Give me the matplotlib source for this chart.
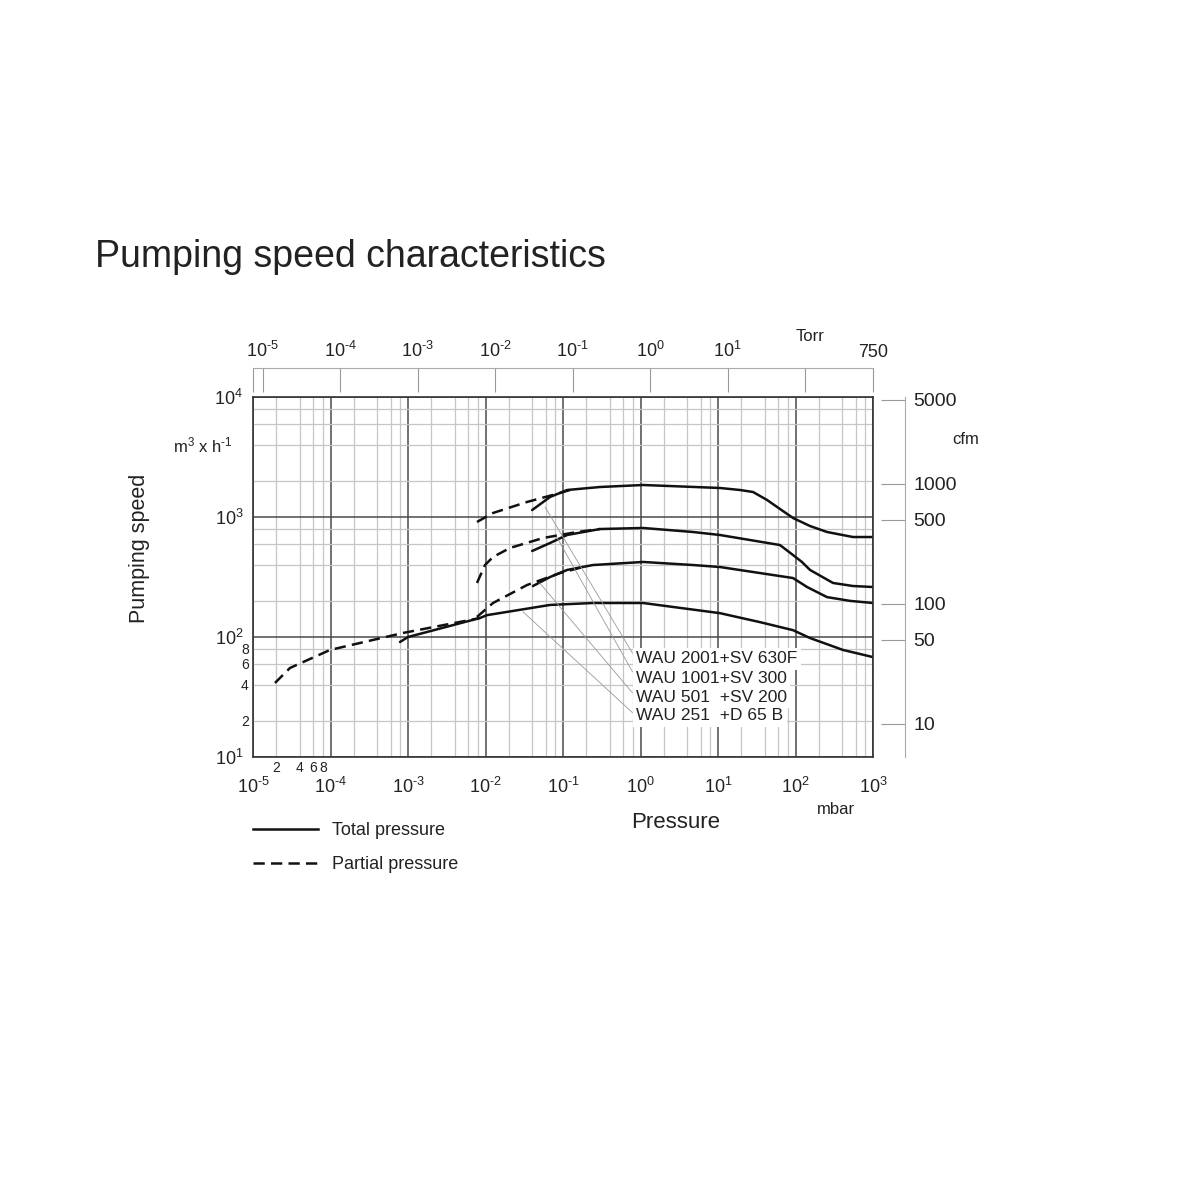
import matplotlib
matplotlib.use('Agg')
import matplotlib.pyplot as plt
import numpy as np
from matplotlib.ticker import FixedLocator, FuncFormatter, NullLocator
from matplotlib.lines import Line2D

plt.rcParams['font.family'] = ['Liberation Sans', 'DejaVu Sans']
plt.rcParams['mathtext.fontset'] = 'custom'
plt.rcParams['mathtext.rm'] = 'Liberation Sans'
plt.rcParams['mathtext.it'] = 'Liberation Sans:italic'
plt.rcParams['mathtext.bf'] = 'Liberation Sans:bold'

MBAR_PER_TORR = 1.333     # pressure conversion for the top axis
M3H_PER_CFM = 1.9         # as drawn on the right hand scale

# pressure in mbar, pumping speed in m3/h
wau2001_p = [0.040, 0.068, 0.113, 0.30, 1.08, 10.6, 19.2, 28.3, 42.9, 63.1, 92.9, 154, 255, 552, 1000]
wau2001_s = [1143, 1468, 1679, 1778, 1848, 1745, 1679, 1616, 1387, 1166, 981, 841, 750, 681, 681]
wau2001_pp = [0.00776, 0.0125, 0.0343, 0.0914, 0.123]
wau2001_ps = [909, 1080, 1334, 1585, 1679]

wau1001_p = [0.040, 0.068, 0.113, 0.30, 1.08, 4.75, 10.6, 63, 92.9, 121, 154, 305, 552, 1000]
wau1001_s = [521, 607, 708, 794, 810, 750, 708, 584, 482, 422, 362, 282, 266, 261]
wau1001_pp = [0.00776, 0.00986, 0.0125, 0.0207, 0.0552, 0.152, 0.30]
wau1001_ps = [282, 398, 464, 552, 668, 750, 794]

wau501_p = [0.041, 0.068, 0.113, 0.244, 1.08, 4.75, 10.6, 92.9, 141, 255, 505, 1000]
wau501_s = [266, 316, 362, 398, 422, 398, 383, 310, 261, 215, 200, 192]
wau501_pp = [0.00776, 0.0125, 0.0343, 0.0914, 0.204]
wau501_ps = [147, 192, 271, 341, 391]

wau251_p = [7.89e-4, 1e-3, 0.0085, 0.0104, 0.068, 0.244, 1.08, 10.6, 34.8, 92.9, 154, 410, 1000]
wau251_s = [90.9, 100, 144, 152, 185, 192, 192, 158, 133, 114, 98, 78, 68]
wau251_pp = [1.92e-5, 3.0e-5, 9.86e-5, 8.6e-4, 2.59e-3, 0.0085]
wau251_ps = [41.4, 55.2, 78, 108, 124, 144]

models = ['WAU 2001+SV 630F', 'WAU 1001+SV 300', 'WAU 501  +SV 200', 'WAU 251  +D 65 B']
lead_p = [0.0586, 0.083, 0.05, 0.0305]
lead_s = [1211, 681, 282, 162]
label_p = 0.875
label_s = [65.6, 45.5, 31.6, 22.0]

torr_ticks = [1e-5/MBAR_PER_TORR, 1e-5, 1e-4, 1e-3, 1e-2, 1e-1, 1, 10, 100, 750]
torr_labels = ['', r'$10^{\text{-}5}$', r'$10^{\text{-}4}$', r'$10^{\text{-}3}$', r'$10^{\text{-}2}$',
               r'$10^{\text{-}1}$', r'$10^{0}$', r'$10^{1}$', '', '750']
cfm_ticks = [10, 50, 100, 500, 1000, 5000]

fig = plt.figure(figsize=(12, 12), dpi=100)
ax = fig.add_axes([253/1200, 1-757/1200, 620/1200, 360/1200])
ax.set_xscale('log')
ax.set_yscale('log')
ax.set_xlim(1e-5, 1e3)
ax.set_ylim(10, 1e4)

dash = (0, (4.5, 2.5))
for p, s in [(wau2001_p, wau2001_s), (wau1001_p, wau1001_s), (wau501_p, wau501_s), (wau251_p, wau251_s)]:
    ax.plot(p, s, color='#111', lw=1.8, solid_capstyle='round', solid_joinstyle='round')
for p, s in [(wau2001_pp, wau2001_ps), (wau1001_pp, wau1001_ps), (wau501_pp, wau501_ps), (wau251_pp, wau251_ps)]:
    ax.plot(p, s, color='#111', lw=1.8, ls=dash)

# grid
xmaj = [10.0**k for k in range(-5, 4)]
xmin = [m*10.0**k for k in range(-5, 3) for m in (2, 4, 6, 8)]
ymaj = [10.0**k for k in range(1, 5)]
ymin = [m*10.0**k for k in range(1, 4) for m in (2, 4, 6, 8)]
ax.xaxis.set_major_locator(FixedLocator(xmaj))
ax.xaxis.set_minor_locator(FixedLocator(xmin))
ax.yaxis.set_major_locator(FixedLocator(ymaj))
ax.yaxis.set_minor_locator(FixedLocator(ymin))
ax.set_axisbelow(True)
ax.grid(which='major', color='#4a4a4a', lw=1.1)
ax.grid(which='minor', color='#c6c6c6', lw=0.9)

def exp_label(v, pos):
    k = int(round(np.log10(v)))
    if k < 0:
        return r'$10^{\text{-}%d}$' % -k
    return r'$10^{%d}$' % k

def xminor_label(v, pos):
    if v < 1e-4:
        return '%d' % round(v/1e-5)
    return ''

def yminor_label(v, pos):
    if v < 100:
        return '%d' % round(v/10)
    return ''

ax.xaxis.set_major_formatter(FuncFormatter(exp_label))
ax.yaxis.set_major_formatter(FuncFormatter(exp_label))
ax.xaxis.set_minor_formatter(FuncFormatter(xminor_label))
ax.yaxis.set_minor_formatter(FuncFormatter(yminor_label))
ax.tick_params(which='both', length=0, colors='#222')
ax.tick_params(axis='x', which='major', pad=14, labelsize=13)
ax.tick_params(axis='x', which='minor', pad=3, labelsize=10)
ax.tick_params(axis='y', which='major', pad=7, labelsize=13)
ax.tick_params(axis='y', which='minor', pad=3, labelsize=10)
for sp in ax.spines.values():
    sp.set_color('#333')
    sp.set_linewidth(1.2)

# top Torr scale
top = ax.secondary_xaxis(1 + 29/360, functions=(lambda p: p/MBAR_PER_TORR, lambda t: t*MBAR_PER_TORR))
top.set_xticks(torr_ticks)
top.set_xticklabels(torr_labels)
top.xaxis.set_minor_locator(NullLocator())
top.tick_params(direction='in', length=17, width=0.8, color='#999', pad=5, labelsize=13, labelcolor='#222')
top.spines['top'].set_color('#aaa')

# right cfm scale
right = ax.secondary_yaxis(1 + 32/620, functions=(lambda s: s/M3H_PER_CFM, lambda c: c*M3H_PER_CFM))
right.set_yticks(cfm_ticks)
right.set_yticklabels([str(c) for c in cfm_ticks])
right.yaxis.set_minor_locator(NullLocator())
right.tick_params(direction='in', length=17, width=0.8, color='#999', pad=6, labelsize=14, labelcolor='#222')
right.spines['right'].set_color('#aaa')

# model labels with leader lines
for txt, lp, ls, s in zip(models, lead_p, lead_s, label_s):
    ax.annotate(txt, xy=(lp, ls), xytext=(label_p, s), textcoords='data',
                ha='left', va='center', fontsize=12.5, color='#222',
                bbox=dict(fc='white', ec='none', pad=2.5),
                arrowprops=dict(arrowstyle='-', color='#999', lw=0.6,
                                shrinkA=0, shrinkB=0, relpos=(0, 0.5)))

fig.text(95/1200, 1-257/1200, 'Pumping speed characteristics', fontsize=27,
         va='center', ha='left', color='#222')
fig.text(140/1200, 1-548/1200, 'Pumping speed', fontsize=15.5, rotation=90,
         va='center', ha='center', color='#222')
fig.text(203/1200, 1-445/1200, r'm$^{3}$ x h$^{\text{-}1}$', fontsize=12,
         va='center', ha='center', color='#222')
fig.text(676/1200, 1-822/1200, 'Pressure', fontsize=16, va='center', ha='center', color='#222')
fig.text(836/1200, 1-810/1200, 'mbar', fontsize=12, va='center', ha='center', color='#222')
fig.text(966/1200, 1-440/1200, 'cfm', fontsize=12, va='center', ha='center', color='#222')
fig.text(810/1200, 1-337/1200, 'Torr', fontsize=12, va='center', ha='center', color='#222')

handles = [Line2D([], [], color='#111', lw=1.8),
           Line2D([], [], color='#111', lw=1.8, ls=(0, (4.5, 2.5)))]
fig.legend(handles, ['Total pressure', 'Partial pressure'], loc='upper left',
           bbox_to_anchor=(253/1200, 1-822/1200), frameon=False, fontsize=13,
           handlelength=3.6, labelspacing=0.95, handletextpad=0.8,
           borderaxespad=0, borderpad=0, labelcolor='#222')

fig.savefig('out.png', dpi=100)
